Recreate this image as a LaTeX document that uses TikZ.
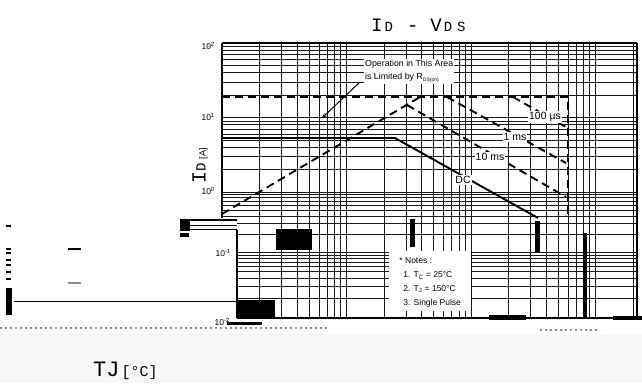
\documentclass[tikz,border=0pt]{standalone}
\usepackage{fontspec}
\setmainfont{Liberation Serif}
\setsansfont{Liberation Sans}
\newfontfamily\monofont{Liberation Mono}
\usetikzlibrary{arrows.meta}
\definecolor{bandgray}{RGB}{247,247,247}
\begin{document}
\begin{tikzpicture}[x=1pt,y=-1pt,
  gridline/.style={line width=0.75pt,black!90},
  frameline/.style={line width=1.8pt,black},
  soa/.style={line width=1.9pt,black,dash pattern=on 8pt off 5pt},
  dcline/.style={line width=1.9pt,black},
  blk/.style={fill=black,draw=none},
  curvelbl/.style={font=\sffamily\fontsize{10.5}{11}\selectfont,fill=white,inner sep=1pt},
  ticklbl/.style={font=\sffamily\fontsize{8.5}{8.5}\selectfont,anchor=east,inner sep=1pt},
  noise/.style={black!45,line width=1.2pt,dash pattern=on 2pt off 3pt},
]
\useasboundingbox (0,0) rectangle (642,383);
\fill[white] (0,0) rectangle (642,383);
\fill[bandgray] (0,334) rectangle (642,383);

% vertical grid lines
\foreach \d in {0,1,2,3}{
  \foreach \m in {1,...,9}{
    \pgfmathsetmacro\xx{222+124.5*(\d+log10(\m))}
    \pgfmathtruncatemacro\ok{and(\xx>222.5,\xx<636)}
    \ifnum\ok=1
      \draw[gridline] (\xx,43) -- (\xx,318);
    \fi
  }
}
% horizontal grid lines
\foreach \yh/\yl in {43/117.5,117.5/192,192/252,252/318}{
  \foreach \m in {1,...,9}{
    \pgfmathsetmacro\yy{\yl-(\yl-\yh)*log10(\m)}
    \pgfmathsetmacro\xl{\yy<218?222:237}
    \draw[gridline] (\xl,\yy) -- (637,\yy);
  }
}

% frame
\draw[frameline] (222,43) -- (637,43);
\draw[line width=1.5pt] (637,43) -- (637,318);
\draw[frameline] (222,43) -- (222,218);
\draw[frameline] (237,230) -- (237,318);
\draw[frameline] (237,318) -- (637,318);

% SOA curves
\draw[soa] (222,214) -- (420,97);
\draw[soa] (222,97) -- (568,97) -- (568,218);
\draw[soa] (513,97) -- (566,127);
\draw[soa] (447,97) -- (566,163);
\draw[soa] (407,105) -- (566,197);
\draw[dcline] (222,138) -- (395,138) -- (538,218);

% curve labels
\node[curvelbl] (l100) at (545,117) {100 µs};
\node[curvelbl] (l1) at (515,137) {1 ms};
\node[curvelbl] (l10) at (490,157) {10 ms};
\node[curvelbl] (ldc) at (463,180) {DC};

% annotation
\node[font=\sffamily\fontsize{8.8}{13}\selectfont,align=left,fill=white,inner sep=1pt,anchor=north west]
  (anno) at (364,59) {Operation in This Area\\is Limited by R\raisebox{-2pt}{\fontsize{5}{5}\selectfont DS(on)}};
\coordinate (astart) at (360,82);
\coordinate (atip) at (322,118);
\draw[line width=1pt,-{Stealth[length=5pt,width=4pt]}] (astart) -- (atip);

% notes
\node[font=\sffamily\fontsize{8.5}{13.7}\selectfont,align=left,fill=white,inner sep=2pt,anchor=north west,
  minimum width=82pt,minimum height=60pt,text depth=0pt]
  (notes) at (389,251) {* Notes :\\[1pt]\hspace*{4pt}1. T\textsubscript{C} = 25°C\\\hspace*{4pt}2. T\textsubscript{J} = 150°C\\\hspace*{4pt}3. Single Pulse};

% axis tick labels
\node[ticklbl] (y2) at (216,46) {10\textsuperscript{2}};
\node[ticklbl] (y1) at (216,117) {10\textsuperscript{1}};
\node[ticklbl] (y0) at (216,191) {10\textsuperscript{0}};
\node[ticklbl] (ym1) at (232,253) {10\textsuperscript{-1}};
\node[ticklbl] (ym2) at (231,322) {10\textsuperscript{-2}};

% title and axis labels
\node[font=\monofont,anchor=base west,inner sep=0pt] (title) at (371,31)
  {\fontsize{19}{19}\selectfont I\hspace{2pt}{\fontsize{14}{14}\selectfont D}\hspace{14pt}-\hspace{12pt}V\hspace{2pt}{\fontsize{14}{14}\selectfont D\hspace{5pt}S}};
\node[rotate=90,font=\monofont,inner sep=0pt] (ylab) at (200,166)
  {\fontsize{20}{20}\selectfont I{\fontsize{14}{14}\selectfont D}\hspace{4pt}{\sffamily\fontsize{9}{9}\selectfont [A]}};
\node[font=\monofont,anchor=base west,inner sep=0pt] (tlab) at (93,376)
  {\fontsize{22}{22}\selectfont TJ\hspace{2pt}{\fontsize{15}{15}\selectfont [°C]}};

% scan glitches
\fill[blk] (180,219) rectangle (190,231);
\draw[line width=1.5pt] (180,220) -- (237,220);
\draw[line width=0.8pt] (190,225) -- (237,225);
\draw[line width=0.8pt] (190,229) -- (237,229);
\fill[blk] (180,233) rectangle (189,237);
\fill[blk] (238,300) rectangle (275,318);
\fill[blk] (276,229) rectangle (312,250);
\fill[blk] (410,219) rectangle (415,247);
\fill[blk] (535,221) rectangle (540,252);
\fill[blk] (583,233) rectangle (587,318);
\fill[blk] (489,315) rectangle (526,320);
\fill[blk] (613,316) rectangle (642,320);
\fill[blk] (227,322) rectangle (262,325);
\draw[line width=0.8pt] (14,301) -- (236,301);
\fill[blk] (6,288) rectangle (12,315);
\draw[line width=1.3pt] (68,249) -- (81,249);
\draw[line width=1.3pt,black!45] (68,283) -- (81,283);
\foreach \yy in {225,248,252,259,264,271,278}{
  \fill[blk] (6,\yy) rectangle (11,\yy+2);
}
\draw[noise] (0,328) -- (330,328);
\draw[noise] (540,330) -- (600,330);
\end{tikzpicture}
\end{document}
